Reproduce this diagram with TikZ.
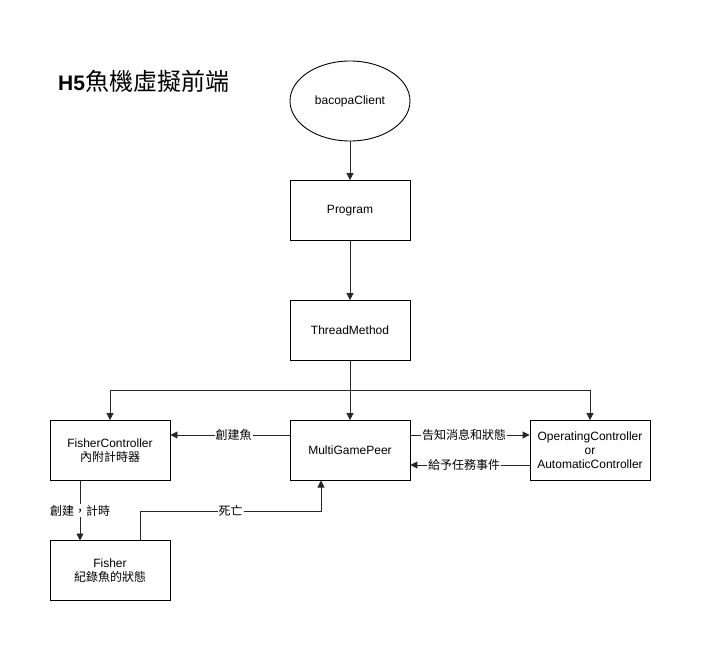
\documentclass[tikz,border=0pt]{standalone}
\usepackage{fontspec}
\setmainfont{Liberation Sans}
\newfontfamily\cjk{Noto Sans CJK TC}
\usetikzlibrary{arrows.meta,shapes.geometric}
\begin{document}
\begin{tikzpicture}[x=1pt,y=-1pt,
  box/.style={draw=black,line width=0.9pt,minimum width=120pt,minimum height=60pt,inner sep=1pt,align=center,font=\fontsize{12}{14}\selectfont},
  conn/.style={draw=black!85,line width=0.9pt,-{Triangle[length=7pt,width=7pt]}},
  lbl/.style={fill=white,inner sep=1pt,font=\fontsize{12}{14}\selectfont\cjk}]
\useasboundingbox[fill=white] (0,0) rectangle (701,651);
\node[anchor=west,font=\fontsize{21}{24}\selectfont,inner sep=0pt] (title) at (58,81) {\textbf{H5}{\fontsize{24}{26}\selectfont\cjk 魚機虛擬前端}};
\node[draw=black,line width=0.9pt,ellipse,minimum width=120pt,minimum height=80pt,font=\fontsize{12}{14}\selectfont] (client) at (350,101) {bacopaClient};
\node[box] (prog) at (350,210.5) {Program};
\node[box] (thread) at (350,330.5) {ThreadMethod};
\node[box] (peer) at (350,450.5) {MultiGamePeer};
\node[box] (fc) at (110,450.5) {FisherController\\{\cjk 內附計時器}};
\node[box] (oc) at (590,450.5) {OperatingController\\or\\AutomaticController};
\node[box] (fisher) at (110,570.5) {Fisher\\{\cjk 紀錄魚的狀態}};
\coordinate (br) at (350,390);
\draw[conn] (client) -- (prog);
\draw[conn] (prog) -- (thread);
\draw[conn] (thread) -- (peer);
\draw[conn] (br) -| (fc.north);
\draw[conn] (br) -| (oc.north);
\draw[conn] (peer.west |- 0,435) -- node[lbl,pos=0.47]{創建魚} (fc.east |- 0,435);
\draw[conn] (peer.east |- 0,435) -- node[lbl,pos=0.45]{告知消息和狀態} (oc.west |- 0,435);
\draw[conn] (oc.west |- 0,465) -- node[lbl,pos=0.55]{給予任務事件} (peer.east |- 0,465);
\draw[conn] (80,480.5) -- node[lbl]{創建，計時} (80,540.5);
\draw[conn] (140,540.5) -- (140,511) -- node[lbl,pos=0.5]{死亡} (321,511) -- (321,480.5);
\end{tikzpicture}
\end{document}
